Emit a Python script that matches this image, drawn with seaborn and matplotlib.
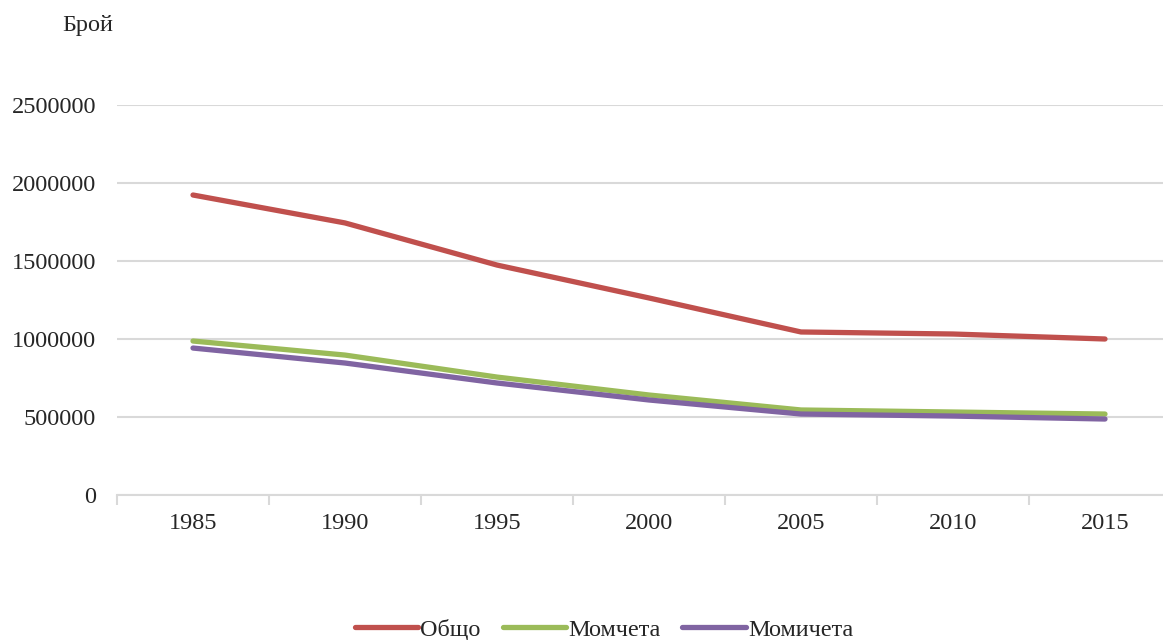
import pandas as pd
import matplotlib.pyplot as plt
import seaborn as sns

years = ["1985", "1990", "1995", "2000", "2005", "2010", "2015"]
total = [1923000, 1744000, 1474000, 1263000, 1045000, 1032000, 1000000]
boys = [987000, 897000, 756000, 641000, 545000, 532000, 519000]
girls = [942000, 846000, 718000, 609000, 519000, 506000, 487000]
series_names = ["Общо", "Момчета", "Момичета"]
colors = ["#C0504D", "#9BBB59", "#8064A2"]

frames = []
for name, vals in zip(series_names, [total, boys, girls]):
    frames.append(pd.DataFrame({"year": years, "value": vals, "series": name}))
df = pd.concat(frames, ignore_index=True)

sns.set_style("white")
plt.rcParams["font.family"] = ["Liberation Serif", "DejaVu Serif"]

fig = plt.figure(figsize=(11.63, 6.4), dpi=100)
ax = fig.add_axes([117 / 1163, 1 - 495 / 640, 1064 / 1163, 390 / 640])

sns.lineplot(data=df, x="year", y="value", hue="series", hue_order=series_names,
             palette=dict(zip(series_names, colors)), linewidth=3.8,
             solid_capstyle="round", ax=ax, legend=False)

ax.set_xlim(-0.5, len(years) - 0.5)
ax.set_ylim(0, 2500000)
ax.set_yticks(range(0, 2500001, 500000))
ax.set_yticklabels([str(v) for v in range(0, 2500001, 500000)])
ax.yaxis.grid(True, color="#D9D9D9", linewidth=1.5)
ax.set_axisbelow(True)
for s in ["top", "right", "left"]:
    ax.spines[s].set_visible(False)
ax.spines["bottom"].set_color("#D9D9D9")
ax.spines["bottom"].set_linewidth(1.5)

ax.set_xticks([i - 0.5 for i in range(len(years) + 1)], minor=True)
ax.tick_params(axis="x", which="minor", bottom=True, length=7, width=1.5,
               color="#D9D9D9", direction="out")
ax.tick_params(axis="x", which="major", length=0, labelsize=17.5, pad=13)
ax.tick_params(axis="y", length=0, labelsize=17.5, pad=15)
ax.set_xlabel("")
ax.set_ylabel("")

fig.text(88 / 1163, 1 - 25 / 640, "Брой", fontsize=17.5, ha="center", va="center")

handles = [plt.Line2D([], [], color=c, linewidth=3.8, solid_capstyle="round") for c in colors]
fig.legend(handles, series_names, loc="lower center", bbox_to_anchor=(604 / 1163, -0.035),
           ncol=3, frameon=False, fontsize=17.5, handlelength=2.6, handletextpad=0.1,
           columnspacing=0.9)

fig.savefig("out.png", dpi=100)
